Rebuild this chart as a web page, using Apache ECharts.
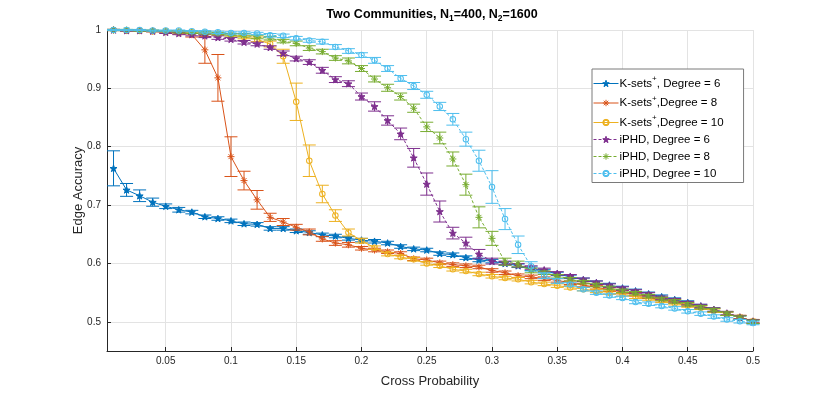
<!DOCTYPE html>
<html>
<head>
<meta charset="utf-8">
<script src="https://cdn.jsdelivr.net/npm/echarts@6/dist/echarts.min.js"></script>
<style>
  html, body { margin: 0; padding: 0; background: #fff; }
  #chart { width: 830px; height: 395px; }
</style>
</head>
<body>
<div id="chart"></div>
<script>
// cross probability, 0.01 .. 0.50
var crossProb = [];
for (var k = 1; k <= 50; k++) crossProb.push(+(k / 100).toFixed(2));

var xTicks = [0.05, 0.1, 0.15, 0.2, 0.25, 0.3, 0.35, 0.4, 0.45, 0.5];
var yTicks = [0.5, 0.6, 0.7, 0.8, 0.9, 1];

var kSets6 = [0.763, 0.726, 0.716, 0.705, 0.698, 0.692, 0.688, 0.680, 0.677, 0.673,
              0.668, 0.667, 0.660, 0.660, 0.656, 0.653, 0.649, 0.647, 0.643, 0.640,
              0.638, 0.635, 0.629, 0.625, 0.623, 0.617, 0.615, 0.610, 0.606, 0.604,
              0.600, 0.596, 0.591, 0.587, 0.582, 0.577, 0.572, 0.567, 0.563, 0.558,
              0.553, 0.548, 0.543, 0.538, 0.533, 0.527, 0.521, 0.514, 0.507, 0.500];
var kSets6Err = [0.030, 0.011, 0.010, 0.007, 0.004, 0.004, 0.003, 0.003, 0.003, 0.003,
                 0.003, 0.003, 0.003, 0.003, 0.003, 0.003, 0.003, 0.003, 0.003, 0.003,
                 0.003, 0.003, 0.003, 0.003, 0.003, 0.003, 0.003, 0.003, 0.003, 0.003,
                 0.003, 0.003, 0.003, 0.003, 0.003, 0.003, 0.003, 0.003, 0.003, 0.003,
                 0.003, 0.003, 0.003, 0.003, 0.003, 0.003, 0.003, 0.003, 0.003, 0.003];

var kSets8 = [1.000, 0.999, 0.999, 0.998, 0.997, 0.995, 0.992, 0.966, 0.918, 0.783,
              0.742, 0.709, 0.679, 0.671, 0.662, 0.654, 0.642, 0.635, 0.632, 0.626,
              0.623, 0.620, 0.617, 0.608, 0.606, 0.601, 0.598, 0.596, 0.594, 0.588,
              0.584, 0.579, 0.577, 0.574, 0.571, 0.567, 0.563, 0.559, 0.555, 0.551,
              0.547, 0.543, 0.539, 0.535, 0.530, 0.525, 0.520, 0.514, 0.508, 0.501];
var kSets8Err = [0.001, 0.001, 0.001, 0.001, 0.002, 0.002, 0.004, 0.023, 0.040, 0.034,
                 0.016, 0.016, 0.007, 0.006, 0.005, 0.005, 0.004, 0.004, 0.004, 0.003,
                 0.003, 0.003, 0.003, 0.003, 0.003, 0.003, 0.003, 0.003, 0.003, 0.003,
                 0.003, 0.003, 0.003, 0.003, 0.003, 0.003, 0.003, 0.003, 0.003, 0.003,
                 0.003, 0.003, 0.003, 0.003, 0.003, 0.003, 0.003, 0.003, 0.003, 0.003];

var kSets10 = [1.000, 0.999, 0.999, 0.998, 0.998, 0.997, 0.996, 0.995, 0.993, 0.991,
               0.988, 0.984, 0.976, 0.955, 0.877, 0.776, 0.719, 0.682, 0.653, 0.639,
               0.627, 0.616, 0.611, 0.607, 0.600, 0.596, 0.590, 0.587, 0.582, 0.578,
               0.575, 0.573, 0.568, 0.565, 0.562, 0.559, 0.556, 0.553, 0.550, 0.547,
               0.543, 0.540, 0.536, 0.532, 0.528, 0.524, 0.519, 0.514, 0.508, 0.501];
var kSets10Err = [0.001, 0.001, 0.001, 0.001, 0.001, 0.002, 0.002, 0.002, 0.002, 0.003,
                  0.003, 0.004, 0.005, 0.012, 0.032, 0.027, 0.015, 0.010, 0.006, 0.004,
                  0.003, 0.003, 0.003, 0.003, 0.003, 0.003, 0.003, 0.003, 0.003, 0.003,
                  0.003, 0.003, 0.003, 0.003, 0.003, 0.003, 0.003, 0.003, 0.003, 0.003,
                  0.003, 0.003, 0.003, 0.003, 0.003, 0.003, 0.003, 0.003, 0.003, 0.003];

var iphd6 = [1.000, 0.999, 0.999, 0.998, 0.996, 0.994, 0.992, 0.990, 0.987, 0.984,
             0.979, 0.976, 0.970, 0.960, 0.951, 0.945, 0.931, 0.915, 0.908, 0.886,
             0.869, 0.845, 0.822, 0.781, 0.736, 0.689, 0.652, 0.635, 0.616, 0.604,
             0.601, 0.597, 0.593, 0.589, 0.583, 0.578, 0.572, 0.567, 0.562, 0.557,
             0.552, 0.547, 0.541, 0.537, 0.532, 0.527, 0.521, 0.515, 0.508, 0.501];
var iphd6Err = [0.001, 0.001, 0.001, 0.001, 0.002, 0.002, 0.002, 0.003, 0.003, 0.003,
                0.003, 0.003, 0.003, 0.004, 0.004, 0.004, 0.005, 0.005, 0.005, 0.006,
                0.008, 0.008, 0.010, 0.016, 0.019, 0.018, 0.010, 0.010, 0.008, 0.005,
                0.003, 0.003, 0.003, 0.003, 0.003, 0.003, 0.003, 0.003, 0.003, 0.003,
                0.003, 0.003, 0.003, 0.003, 0.003, 0.003, 0.003, 0.003, 0.003, 0.003];

var iphd8 = [1.000, 1.000, 0.999, 0.999, 0.998, 0.997, 0.996, 0.995, 0.994, 0.992,
             0.991, 0.988, 0.986, 0.981, 0.977, 0.969, 0.963, 0.952, 0.947, 0.934,
             0.916, 0.901, 0.886, 0.866, 0.834, 0.815, 0.779, 0.735, 0.679, 0.643,
             0.603, 0.599, 0.588, 0.584, 0.578, 0.573, 0.568, 0.563, 0.558, 0.553,
             0.549, 0.544, 0.539, 0.535, 0.530, 0.525, 0.520, 0.514, 0.507, 0.500];
var iphd8Err = [0.001, 0.001, 0.001, 0.001, 0.001, 0.002, 0.002, 0.002, 0.002, 0.002,
                0.003, 0.003, 0.003, 0.003, 0.004, 0.004, 0.004, 0.004, 0.005, 0.005,
                0.005, 0.006, 0.006, 0.007, 0.008, 0.010, 0.012, 0.018, 0.018, 0.012,
                0.006, 0.005, 0.004, 0.003, 0.003, 0.003, 0.003, 0.003, 0.003, 0.003,
                0.003, 0.003, 0.003, 0.003, 0.003, 0.003, 0.003, 0.003, 0.003, 0.003];

var iphd10 = [1.000, 1.000, 1.000, 0.999, 0.999, 0.999, 0.998, 0.997, 0.996, 0.995,
              0.995, 0.994, 0.991, 0.990, 0.986, 0.982, 0.980, 0.971, 0.964, 0.957,
              0.948, 0.934, 0.917, 0.904, 0.889, 0.869, 0.847, 0.813, 0.776, 0.731,
              0.676, 0.632, 0.595, 0.579, 0.570, 0.564, 0.556, 0.550, 0.545, 0.541,
              0.534, 0.531, 0.527, 0.523, 0.518, 0.514, 0.509, 0.504, 0.501, 0.498];
var iphd10Err = [0.001, 0.001, 0.001, 0.001, 0.001, 0.001, 0.001, 0.002, 0.002, 0.002,
                 0.002, 0.002, 0.003, 0.003, 0.003, 0.003, 0.004, 0.004, 0.004, 0.004,
                 0.005, 0.005, 0.005, 0.006, 0.006, 0.007, 0.010, 0.012, 0.018, 0.028,
                 0.018, 0.015, 0.008, 0.005, 0.004, 0.003, 0.003, 0.003, 0.003, 0.003,
                 0.003, 0.003, 0.003, 0.003, 0.003, 0.003, 0.003, 0.003, 0.003, 0.003];

var seriesNames = ['K-sets+, Degree = 6', 'K-sets+,Degree = 8', 'K-sets+,Degree = 10',
                   'iPHD, Degree = 6', 'iPHD, Degree = 8', 'iPHD, Degree = 10'];
var seriesValues = [kSets6, kSets8, kSets10, iphd6, iphd8, iphd10];
var seriesErrors = [kSets6Err, kSets8Err, kSets10Err, iphd6Err, iphd8Err, iphd10Err];
var colors = ['#0072BD', '#D95319', '#EDB120', '#7E2F8E', '#77AC30', '#4DBEEE'];

var STAR = 'path://M0,-10L2.35,-3.24L9.51,-3.09L3.8,1.24L5.88,8.09L0,4L-5.88,8.09L-3.8,1.24L-9.51,-3.09L-2.35,-3.24Z';
var ASTER = 'path://M0,-10L0,10M-10,0L10,0M-7,-7L7,7M-7,7L7,-7';
var RING = 'path://M0,-10A10,10,0,1,1,0,10A10,10,0,1,1,0,-10ZM0,-7A7,7,0,1,0,0,7A7,7,0,1,0,0,-7Z';
var markers = [STAR, ASTER, RING, STAR, ASTER, RING];
var FONT = 'Liberation Sans, Arial, Helvetica, sans-serif';

function errorBar(color) {
    return function (params, api) {
        var x = api.value(0), y = api.value(1), e = api.value(2);
        var top = api.coord([x, y + e]);
        var bot = api.coord([x, y - e]);
        var w = 6.5;
        var style = { stroke: color, lineWidth: 1, fill: null };
        return {
            type: 'group',
            children: [
                { type: 'line', shape: { x1: top[0], y1: top[1], x2: bot[0], y2: bot[1] }, style: style },
                { type: 'line', shape: { x1: top[0] - w, y1: top[1], x2: top[0] + w, y2: top[1] }, style: style },
                { type: 'line', shape: { x1: bot[0] - w, y1: bot[1], x2: bot[0] + w, y2: bot[1] }, style: style }
            ]
        };
    };
}

var series = [];
seriesNames.forEach(function (name, i) {
    var c = colors[i];
    var vals = seriesValues[i];
    var errs = seriesErrors[i];
    var iphd = i >= 3;
    var ring = markers[i] === RING;
    series.push({
        name: name,
        type: 'line',
        data: crossProb.map(function (p, j) { return [p, vals[j]]; }),
        symbol: markers[i],
        symbolSize: ring ? 6.5 : 7,
        symbolKeepAspect: true,
        showAllSymbol: true,
        lineStyle: { color: c, width: 1, type: iphd ? [3, 2] : 'solid' },
        itemStyle: { color: c, borderColor: c, borderWidth: ring ? 0 : 1 },
        emphasis: { disabled: true },
        animation: false,
        z: 2 + i * 2
    });
    series.push({
        name: name + ' err',
        type: 'custom',
        renderItem: errorBar(c),
        data: crossProb.map(function (p, j) { return [p, vals[j], errs[j]]; }),
        encode: { x: 0, y: 1 },
        animation: false,
        silent: true,
        z: 1 + i * 2
    });
});

var legendLabel = function (name) {
    return name.replace('K-sets+', 'K-sets{sup|+}');
};

var chart = echarts.init(document.getElementById('chart'));
chart.setOption({
    backgroundColor: '#fff',
    animation: false,
    title: {
        text: '{b|Two Communities, N}{s|1}{b|=400, N}{s|2}{b|=1600}',
        left: 427,
        top: 1,
        textAlign: 'center',
        textStyle: {
            rich: {
                b: { fontFamily: FONT, fontSize: 12.5, fontWeight: 'bold', color: '#000' },
                s: { fontFamily: FONT, fontSize: 8.5, fontWeight: 'bold', color: '#000', padding: [8, 0, 0, 0] }
            }
        }
    },
    legend: {
        data: seriesNames,
        orient: 'vertical',
        left: 592,
        top: 69,
        padding: [6, 20, 3, 1],
        itemGap: 5,
        itemWidth: 25,
        itemHeight: 8,
        borderColor: '#7a7a7a',
        borderWidth: 1,
        backgroundColor: '#fff',
        lineStyle: { width: 1 },
        itemStyle: { borderWidth: 1 },
        formatter: legendLabel,
        textStyle: {
            fontFamily: FONT,
            fontSize: 11.5,
            color: '#000',
            padding: [0, 0, 0, -4],
            rich: {
                sup: { fontFamily: FONT, fontSize: 8, color: '#000', padding: [0, 0, 9, 0] }
            }
        }
    },
    grid: { left: 107, right: 77, top: 30, bottom: 44, containLabel: false },
    xAxis: {
        type: 'value',
        min: 0.005,
        max: 0.5,
        name: 'Cross Probability',
        nameLocation: 'middle',
        nameGap: 24,
        nameTextStyle: { fontFamily: FONT, fontSize: 13, color: '#262626' },
        axisLine: { lineStyle: { color: '#262626', width: 1 } },
        axisTick: { inside: true, length: 4, customValues: xTicks, lineStyle: { color: '#262626' } },
        axisLabel: { customValues: xTicks, margin: 5, fontFamily: FONT, fontSize: 10, color: '#262626',
                     formatter: function (v) { return String(+v.toFixed(2)); } },
        splitLine: { show: true, lineStyle: { color: '#e3e3e3', width: 1 } }
    },
    yAxis: {
        type: 'value',
        min: 0.45,
        max: 1,
        name: 'Edge Accuracy',
        nameLocation: 'middle',
        nameGap: 22,
        nameMoveOverlap: false,
        nameTextStyle: { fontFamily: FONT, fontSize: 13, color: '#262626' },
        axisLine: { show: true, lineStyle: { color: '#262626', width: 1 } },
        axisTick: { show: true, inside: true, length: 4, customValues: yTicks, lineStyle: { color: '#262626' } },
        axisLabel: { customValues: yTicks, margin: 6, fontFamily: FONT, fontSize: 10, color: '#262626',
                     formatter: function (v) { return String(+v.toFixed(1)); } },
        splitLine: { show: true, lineStyle: { color: '#e3e3e3', width: 1 } }
    },
    series: series
});
</script>
</body>
</html>
